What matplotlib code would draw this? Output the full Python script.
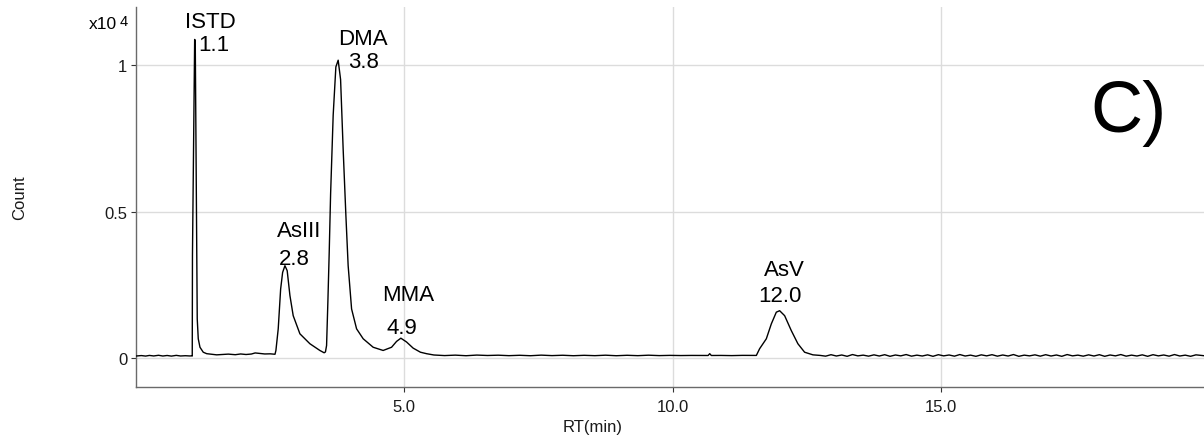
import matplotlib
matplotlib.use("Agg")
import matplotlib.pyplot as plt
import numpy as np

plt.rcParams['font.family'] = ['Liberation Sans', 'DejaVu Sans']

# ---------------- data ----------------
rt_min = [
    0.00, 0.10, 0.18, 0.25, 0.33, 0.42, 0.50, 0.58, 0.66, 0.75, 0.83, 0.92, 1.00, 1.045,
    1.048, 1.052, 1.093, 1.104, 1.141, 1.160, 1.192, 1.253, 1.317, 1.503,
    1.60, 1.72, 1.85, 1.95, 2.05, 2.15, 2.22, 2.30, 2.40, 2.50, 2.59,
    2.607, 2.650, 2.695, 2.732, 2.775, 2.817, 2.868, 2.929, 3.054, 3.240, 3.426, 3.506,
    3.530, 3.551, 3.575, 3.600, 3.626, 3.674, 3.724, 3.767, 3.812, 3.860, 3.911, 3.953, 4.017,
    4.110, 4.233, 4.419, 4.605, 4.762, 4.855, 4.935, 5.041, 5.164, 5.300, 5.413,
    5.55, 5.75, 5.95, 6.15, 6.35, 6.55, 6.75, 6.95, 7.15, 7.35, 7.55, 7.75, 7.95,
    8.15, 8.35, 8.55, 8.75, 8.95, 9.15, 9.35, 9.55, 9.75, 9.95, 10.15, 10.35, 10.55,
    10.66, 10.69, 10.72, 10.90, 11.10, 11.30, 11.50,
    11.559, 11.620, 11.745, 11.838, 11.931, 11.993, 12.086, 12.210, 12.333, 12.458, 12.613,
    12.75, 12.85, 12.95, 13.05, 13.15, 13.25, 13.35, 13.45, 13.55, 13.65, 13.75, 13.85,
    13.95, 14.05, 14.15, 14.25, 14.35, 14.45, 14.55, 14.65, 14.75, 14.85, 14.95, 15.05,
    15.15, 15.25, 15.35, 15.45, 15.55, 15.65, 15.75, 15.85, 15.95, 16.05, 16.15, 16.25,
    16.35, 16.45, 16.55, 16.65, 16.75, 16.85, 16.95, 17.05, 17.15, 17.25, 17.35, 17.45,
    17.55, 17.65, 17.75, 17.85, 17.95, 18.05, 18.15, 18.25, 18.35, 18.45, 18.55, 18.65,
    18.75, 18.85, 18.95, 19.05, 19.15, 19.25, 19.35, 19.45, 19.55, 19.65, 19.75, 19.90,
]
counts = [
    60, 75, 58, 80, 62, 85, 60, 78, 57, 82, 61, 70, 62, 65,
    60, 3500, 10890, 10850, 1330, 650, 360, 190, 140, 100,
    110, 125, 105, 130, 112, 128, 165, 150, 130, 135, 120,
    250, 990, 2350, 2920, 3150, 2980, 2130, 1440, 820, 480, 250, 170,
    200, 420, 1900, 3600, 5600, 8300, 9950, 10180, 9520, 7130, 4860, 3150, 1670,
    990, 650, 360, 250, 360, 560, 670, 540, 330, 190, 140,
    95, 75, 90, 70, 92, 78, 88, 72, 85, 70, 90, 74, 86,
    70, 84, 72, 88, 70, 85, 72, 88, 74, 82, 76, 80, 78,
    78, 140, 78, 80, 74, 82, 78,
    80, 310, 650, 1160, 1560, 1610, 1440, 930, 480, 190, 100,
    80, 55, 105, 60, 95, 50, 110, 65, 90, 55, 100, 60,
    105, 50, 95, 65, 110, 55, 90, 60, 100, 50, 105, 65,
    95, 55, 110, 60, 90, 50, 100, 65, 105, 55, 95, 60,
    110, 50, 90, 65, 100, 55, 105, 60, 95, 50, 110, 65,
    90, 55, 100, 60, 105, 50, 95, 65, 110, 55, 90, 60,
    100, 50, 105, 65, 95, 55, 110, 60, 90, 50, 100, 70,
]

peak_names = ["ISTD", "AsIII", "DMA", "MMA", "AsV"]
peak_rt_labels = ["1.1", "2.8", "3.8", "4.9", "12.0"]

x_ticks = [5.0, 10.0, 15.0]
x_tick_labels = ["5.0", "10.0", "15.0"]
y_ticks = [0.0, 0.5, 1.0]
y_tick_labels = ["0", "0.5", "1"]

scale = 1e4

# ---------------- figure ----------------
W, H = 1204, 439
fig = plt.figure(figsize=(W / 100, H / 100), dpi=100)
ax = fig.add_axes([136 / W, 1 - 388 / H, (W - 136) / W, (388 - 8) / H])

ax.plot(rt_min, np.array(counts) / scale, color='black', lw=1.0, zorder=3)

ax.set_xlim(0, 19.9)
ax.set_ylim(-0.1, 1.2)

ax.set_xticks(x_ticks)
ax.set_xticklabels(x_tick_labels)
ax.set_yticks(y_ticks)
ax.set_yticklabels(y_tick_labels)
ax.tick_params(axis='both', labelsize=12, length=3.3, width=0.8, colors='#333333',
               labelcolor='#1a1a1a')
ax.tick_params(axis='x', pad=5)
ax.tick_params(axis='y', pad=3)

ax.grid(True, color='#dcdcdc', lw=1.0)
ax.set_axisbelow(True)

for s in ['top', 'right']:
    ax.spines[s].set_visible(False)
for s in ['left', 'bottom']:
    ax.spines[s].set_color('#6a6a6a')
    ax.spines[s].set_linewidth(1.0)

ax.set_xlabel("RT(min)", fontsize=12, color='#1a1a1a', labelpad=4)
ax.xaxis.set_label_coords((593 - 136) / (W - 136), -0.085)

fig.text(19.7 / W, 1 - 198 / H, "Count", rotation=90, ha='center', va='center',
         fontsize=12, color='#1a1a1a')

# exponent marker
fig.text(88.5 / W, 1 - 29.3 / H, "x10", ha='left', va='baseline', fontsize=12.5)
fig.text(119.5 / W, 1 - 26.5 / H, "4", ha='left', va='baseline', fontsize=10.5)

# peak annotations: (name x, name y, rt x, rt y) in data units
label_pos = [
    (1.378, 1.130, 1.449, 1.052),
    (3.041, 0.415, 2.942, 0.321),
    (4.223, 1.075, 4.246, 0.994),
    (5.071, 0.196, 4.948, 0.084),
    (12.086, 0.283, 12.002, 0.194),
]
for name, lab, (nx, ny, lx, ly) in zip(peak_names, peak_rt_labels, label_pos):
    ax.text(nx, ny, name, ha='center', va='baseline', fontsize=16, zorder=4)
    ax.text(lx, ly, lab, ha='center', va='baseline', fontsize=16, zorder=4)

ax.text(18.49, 0.775, "C)", ha='center', va='baseline', fontsize=52)

fig.savefig("out.png", dpi=100)
